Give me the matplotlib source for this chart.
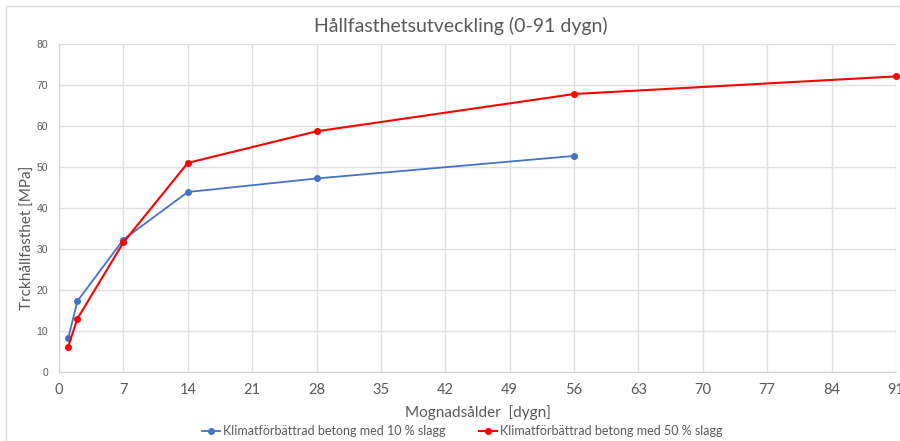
import matplotlib.pyplot as plt
from matplotlib.patches import Rectangle

# Strength development data (days, MPa)
days_10 = [1, 2, 7, 14, 28, 56]
mpa_10 = [8.2, 17.3, 32.3, 43.9, 47.2, 52.7]
days_50 = [1, 2, 7, 14, 28, 56, 91]
mpa_50 = [6.2, 13.0, 31.6, 51.0, 58.7, 67.8, 72.1]
label_10 = 'Klimatförbättrad betong med 10 % slagg'
label_50 = 'Klimatförbättrad betong med 50 % slagg'
x_ticks = list(range(0, 92, 7))
y_ticks = list(range(0, 81, 10))

plt.rcParams['font.family'] = ['Lato', 'DejaVu Sans']

fig = plt.figure(figsize=(9, 4.41), dpi=100)
ax = fig.add_axes([59 / 900, 69 / 441, 837 / 900, 328 / 441])

# outer chart frame
fig.patches.append(Rectangle((6 / 900, -0.1), 1.2, (441 - 6) / 441 + 0.1,
                             transform=fig.transFigure, fill=False,
                             edgecolor='#d9d9d9', linewidth=1))

ax.plot(days_10, mpa_10, color='#4472C4', linewidth=1.3, marker='o',
        markersize=4, label=label_10, zorder=3)
ax.plot(days_50, mpa_50, color='#FF0000', linewidth=1.5, marker='o',
        markersize=4, label=label_50, zorder=3, clip_on=False)

ax.set_xlim(0, 91)
ax.set_ylim(0, 80)
ax.set_xticks(x_ticks)
ax.set_yticks(y_ticks)
ax.grid(True, color='#e0e0e0', linewidth=1)
ax.set_axisbelow(True)
for side in ['top', 'right']:
    ax.spines[side].set_visible(False)
for side in ['left', 'bottom']:
    ax.spines[side].set_color('#d0d0d0')
ax.tick_params(length=0)
ax.tick_params(axis='x', labelsize=10.5, labelcolor='#595959', pad=8)
ax.tick_params(axis='y', labelsize=7.5, labelcolor='#595959', pad=8)
for lbl in ax.get_yticklabels():
    lbl.set_family(['Liberation Sans', 'DejaVu Sans'])

ax.set_xlabel('Mognadsålder  [dygn]', fontsize=11, color='#595959', labelpad=6)
fig.text(28 / 900, 1 - 238 / 441, 'Trckhållfasthet [MPa]', rotation=90,
         ha='center', va='center', fontsize=11, color='#595959')
fig.text(0.512, 0.942, 'Hållfasthetsutveckling (0-91 dygn)', ha='center',
         va='center', fontsize=14, color='#595959')

fig.legend(loc='center', bbox_to_anchor=(462 / 900, 0.022), ncol=2, frameon=False,
           fontsize=9, labelcolor='#595959', handlelength=1.45,
           handletextpad=0.2, columnspacing=2.7)

fig.savefig('out.png', dpi=100)
